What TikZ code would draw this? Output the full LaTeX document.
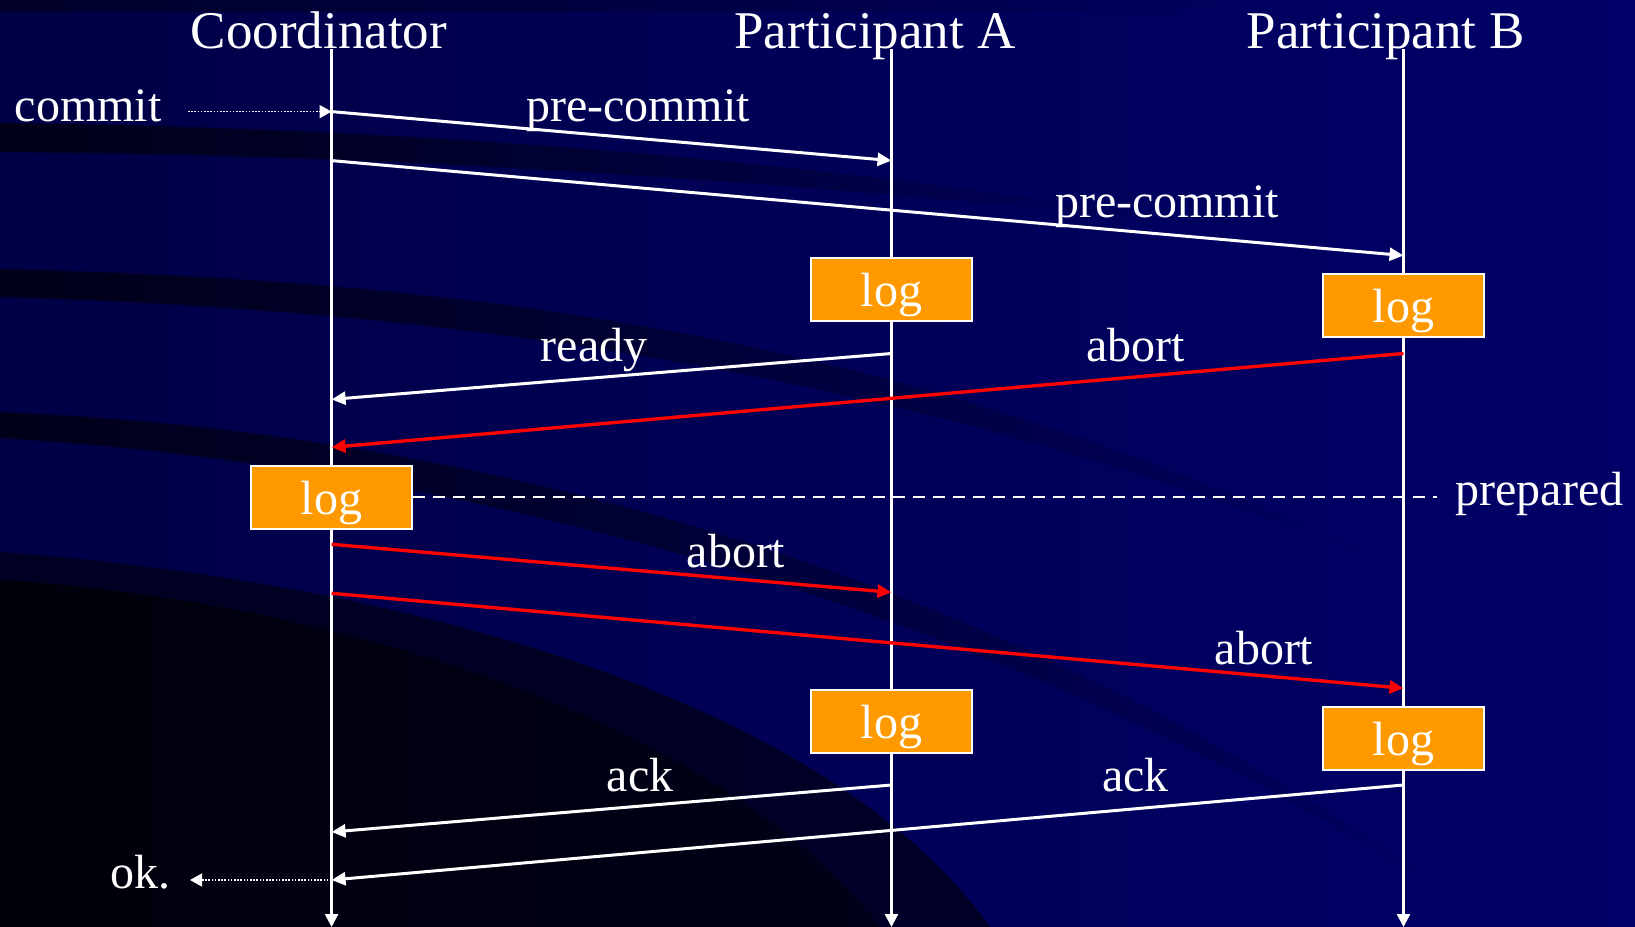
\documentclass[tikz,border=0pt]{standalone}
\usepackage{fontspec}
\setmainfont{Liberation Serif}
\usetikzlibrary{arrows.meta,fadings}

\definecolor{navyL}{RGB}{0,0,70}
\definecolor{navyR}{RGB}{0,0,104}
\definecolor{swoosh}{RGB}{0,0,22}
\definecolor{deepdark}{RGB}{0,0,8}
\definecolor{logfill}{RGB}{255,153,0}
\definecolor{msgred}{RGB}{255,0,0}

\tikzfading[name=fadeoutright, left color=transparent!0, middle color=transparent!20,
            right color=transparent!100]

\tikzset{
  lifeline/.style={draw=white, line width=1.2pt, -{Triangle[length=6.5pt,width=6.5pt]}},
  msg/.style={draw=white, line width=1.5pt, -{Triangle[length=7pt,width=6.5pt]}},
  redmsg/.style={msg, draw=msgred, line width=1.7pt},
  dotmsg/.style={draw=white, line width=0.8pt, dash pattern=on 0.8pt off 0.8pt,
                 -{Triangle[length=6pt,width=6.5pt]}},
  prepline/.style={draw=white, line width=1.1pt, dash pattern=on 6pt off 4pt},
  logbox/.style={draw=white, line width=1pt, fill=logfill, text=white,
                 minimum width=80.5pt, minimum height=31.5pt, inner sep=0pt,
                 text height=17.2pt, text depth=0pt,
                 font=\fontsize{24}{24}\selectfont},
  lbl/.style={text=white, inner sep=0pt, anchor=base, font=\fontsize{24}{24}\selectfont},
  title/.style={lbl, font=\fontsize{26.5}{26.5}\selectfont},
  band/.style={fill=swoosh, path fading=fadeoutright},
}

\begin{document}
\begin{tikzpicture}[x=0.5pt, y=-0.5pt]
  \useasboundingbox (0,0) rectangle (1635,927);

  % background with dark swooshes
  \shade[left color=navyL, right color=navyR] (0,0) rectangle (1635,927);
  \fill[black, opacity=0.4, path fading=fadeoutright] (0,0) rectangle (1250,12);
  \fill[band, opacity=0.95] (0,123) .. controls (450,128) and (850,165) .. (1180,222)
        .. controls (850,188) and (450,155) .. (0,152) -- cycle;
  \fill[band, opacity=0.92] (0,269) .. controls (450,280) and (900,330) .. (1380,560)
        .. controls (900,370) and (450,310) .. (0,297) -- cycle;
  \fill[band, opacity=0.9] (0,412) .. controls (450,430) and (1000,560) .. (1470,910)
        .. controls (1000,600) and (450,465) .. (0,438) -- cycle;
  \fill[swoosh, opacity=0.75] (0,552) .. controls (380,580) and (820,690) .. (990,927)
        -- (0,927) -- cycle;
  \shade[left color=deepdark, right color=swoosh, opacity=0.85]
        (0,580) .. controls (330,600) and (720,720) .. (880,927) -- (0,927) -- cycle;

  % participants
  \node[title] (tC) at (319,48)  {Coordinator};
  \node[title] (tA) at (875,48)  {Participant A};
  \node[title] (tB) at (1386,48) {Participant B};

  \coordinate (cTop) at (331.6,49);  \coordinate (cBot) at (331.6,927);
  \coordinate (aTop) at (891.5,49);  \coordinate (aBot) at (891.5,927);
  \coordinate (bTop) at (1403.5,49); \coordinate (bBot) at (1403.5,927);

  \draw[lifeline] (cTop) -- (cBot);
  \draw[lifeline] (aTop) -- (aBot);
  \draw[lifeline] (bTop) -- (bBot);

  % message end points on the lifelines
  \coordinate (commitStart) at (188,111.6);
  \coordinate (c1) at (331.6,111.6);  \coordinate (a1) at (891.5,160.6);
  \coordinate (c2) at (331.6,160.6);  \coordinate (b1) at (1403.5,255.5);
  \coordinate (a2) at (891.5,353.5);  \coordinate (c3) at (331.6,399.4);
  \coordinate (b2) at (1403.5,353.5); \coordinate (c4) at (331.6,447.3);
  \coordinate (c5) at (331.6,544.3);  \coordinate (a3) at (891.5,592.3);
  \coordinate (c6) at (331.6,593.3);  \coordinate (b3) at (1403.5,688.2);
  \coordinate (a4) at (891.5,785);    \coordinate (c7) at (331.6,832);
  \coordinate (b4) at (1403.5,785);   \coordinate (c8) at (331.6,880);
  \coordinate (okEnd) at (190,880);
  \coordinate (prepEnd) at (1437,497);

  % log boxes
  \node[logbox] (logA1) at (891.5,289)   {log};
  \node[logbox] (logB1) at (1403.5,305)  {log};
  \node[logbox] (logC)  at (331.6,497)   {log};
  \node[logbox] (logA2) at (891.5,721)   {log};
  \node[logbox] (logB2) at (1403.5,738)  {log};

  % messages
  \draw[dotmsg] (commitStart) -- (c1);
  \draw[msg] (c1) -- (a1);
  \draw[msg] (c2) -- (b1);
  \draw[msg] (a2) -- (c3);
  \draw[redmsg] (b2) -- (c4);
  \draw[prepline] (logC.east) -- (prepEnd);
  \draw[redmsg] (c5) -- (a3);
  \draw[redmsg] (c6) -- (b3);
  \draw[msg] (a4) -- (c7);
  \draw[msg] (b4) -- (c8);
  \draw[dotmsg] (c8) -- (okEnd);

  % labels
  \node[lbl, anchor=base west] (lCommit) at (14.6,121) {commit};
  \node[lbl] (lPre1)   at (638,121)   {pre-commit};
  \node[lbl] (lPre2)   at (1167,217)  {pre-commit};
  \node[lbl] (lReady)  at (594,361)   {ready};
  \node[lbl] (lAbort1) at (1135.5,361) {abort};
  \node[lbl, anchor=base west] (lPrep) at (1455,505) {prepared};
  \node[lbl] (lAbort2) at (736,567)   {abort};
  \node[lbl] (lAbort3) at (1264,664)  {abort};
  \node[lbl] (lAck1)   at (640,791)   {ack};
  \node[lbl] (lAck2)   at (1135.5,791) {ack};
  \node[lbl] (lOk)     at (140,888)   {ok.};
\end{tikzpicture}
\end{document}
